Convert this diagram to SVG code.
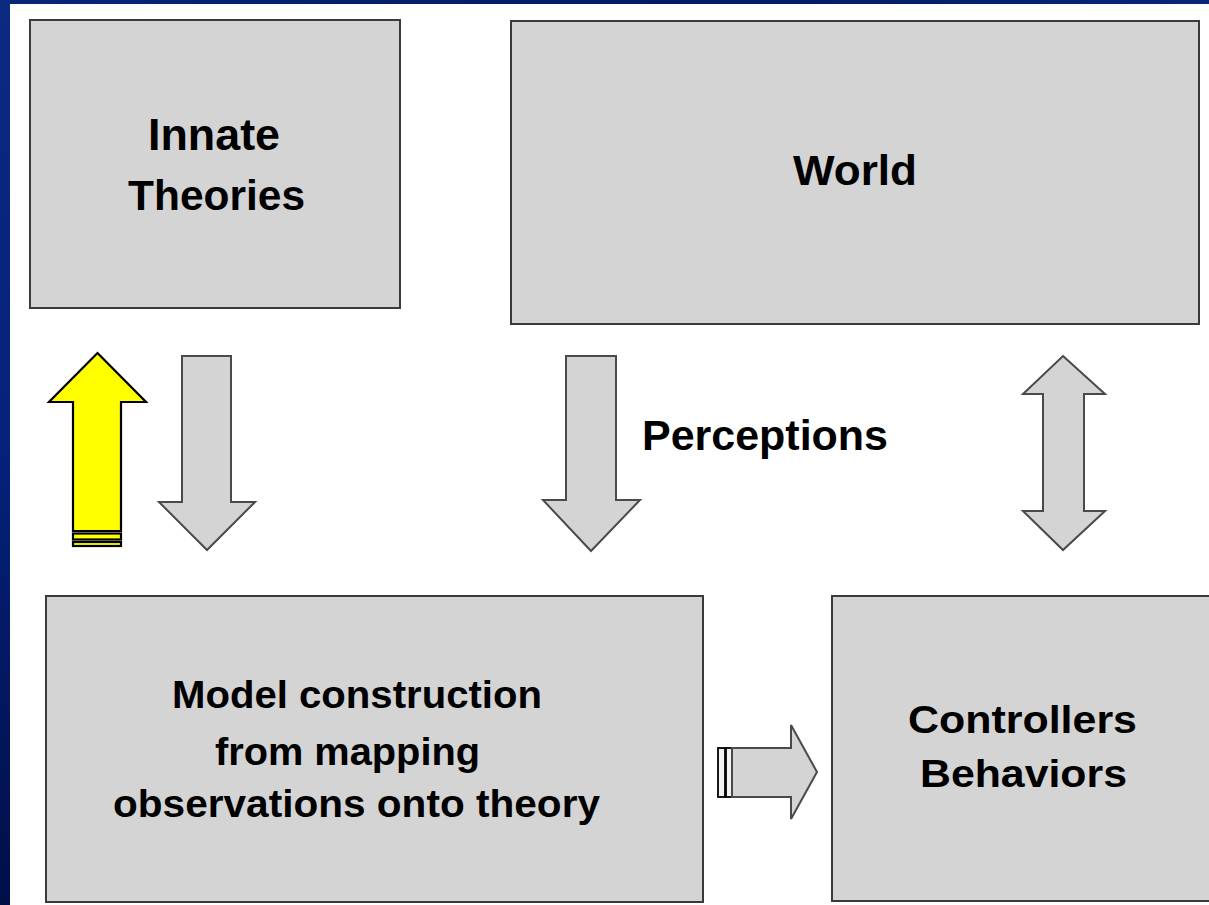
<svg xmlns="http://www.w3.org/2000/svg" width="1209" height="905" viewBox="0 0 1209 905">
  <defs>
    <linearGradient id="edgeBlue" x1="0" y1="0" x2="0" y2="1">
      <stop offset="0" stop-color="#0b2a82"/>
      <stop offset="0.5" stop-color="#06217a"/>
      <stop offset="1" stop-color="#000f48"/>
    </linearGradient>
    <linearGradient id="topBlue" x1="0" y1="0" x2="1" y2="0">
      <stop offset="0" stop-color="#0a2478"/>
      <stop offset="0.55" stop-color="#001a66"/>
      <stop offset="1" stop-color="#0a2478"/>
    </linearGradient>
    <style>
      .box { fill: #d4d4d4; stroke: #3a3a3a; stroke-width: 2; }
      .label { font-family: "Liberation Sans", Arial, sans-serif; font-weight: bold; fill: #000; font-size: 42px; }
      .mid { font-size: 39px; }
      .big { font-size: 44px; }
      .garrow { fill: #d4d4d4; stroke: #4a4a4a; stroke-width: 2; stroke-linejoin: miter; }
      .yarrow { fill: #ffff00; stroke: #000; stroke-width: 2.2; stroke-linejoin: miter; }
      .stripe { fill: #f2f2f2; stroke: #000; stroke-width: 1.8; }
    </style>
  </defs>

  <!-- slide background with blue frame edges -->
  <rect x="0" y="0" width="1209" height="905" fill="#ffffff"/>
  <rect x="0" y="0" width="1209" height="4" fill="url(#topBlue)"/>
  <rect x="0" y="0" width="10" height="905" fill="url(#edgeBlue)"/>

  <!-- nodes -->
  <g id="innate-theories">
    <rect class="box" x="30" y="20" width="370" height="288"/>
    <text class="label big" x="148" y="150" textLength="132" lengthAdjust="spacingAndGlyphs">Innate</text>
    <text class="label" x="128" y="210" textLength="177" lengthAdjust="spacingAndGlyphs">Theories</text>
  </g>

  <g id="world">
    <rect class="box" x="511" y="21" width="688" height="303"/>
    <text class="label" x="793" y="185" textLength="124" lengthAdjust="spacingAndGlyphs">World</text>
  </g>

  <g id="model-construction">
    <rect class="box" x="46" y="596" width="657" height="306"/>
    <text class="label mid" x="172" y="708" textLength="370" lengthAdjust="spacingAndGlyphs">Model construction</text>
    <text class="label mid" x="215" y="765" textLength="265" lengthAdjust="spacingAndGlyphs">from mapping</text>
    <text class="label mid" x="113" y="817" textLength="487" lengthAdjust="spacingAndGlyphs">observations onto theory</text>
  </g>

  <g id="controllers-behaviors">
    <rect class="box" x="832" y="596" width="400" height="305"/>
    <text class="label mid" x="908" y="733" textLength="229" lengthAdjust="spacingAndGlyphs">Controllers</text>
    <text class="label mid" x="920" y="787" textLength="207" lengthAdjust="spacingAndGlyphs">Behaviors</text>
  </g>

  <g id="perceptions-label">
    <text class="label" x="642" y="450" textLength="246" lengthAdjust="spacingAndGlyphs">Perceptions</text>
  </g>

  <!-- connectors: block arrows between the boxes -->
  <g id="connectors">
    <!-- yellow feedback arrow up to Innate Theories -->
    <path class="yarrow" d="M97.5,353 L146,402 L121,402 L121,531 L73,531 L73,402 L49,402 Z"/>
    <rect class="yarrow" x="73" y="533.5" width="48" height="6"/>
    <rect class="yarrow" x="73" y="542" width="48" height="4"/>

    <!-- Innate Theories down to Model construction -->
    <path class="garrow" d="M182,356 L231,356 L231,502 L255,502 L207,550 L159,502 L182,502 Z"/>

    <!-- World perceptions down to Model construction -->
    <path class="garrow" d="M566,356 L616,356 L616,500 L640,500 L591,551 L543,500 L566,500 Z"/>

    <!-- World to/from Controllers -->
    <path class="garrow" d="M1063,356 L1105,394 L1084,394 L1084,511 L1105,511 L1063,550 L1023,511 L1043,511 L1043,394 L1023,394 Z"/>

    <!-- Model construction to Controllers -->
    <rect class="stripe" x="718" y="748" width="7" height="49"/>
    <rect class="stripe" x="726" y="748" width="6" height="49"/>
    <path class="garrow" d="M732,748 L791,748 L791,725 L817,772 L791,819 L791,797 L732,797 Z"/>
  </g>
</svg>
